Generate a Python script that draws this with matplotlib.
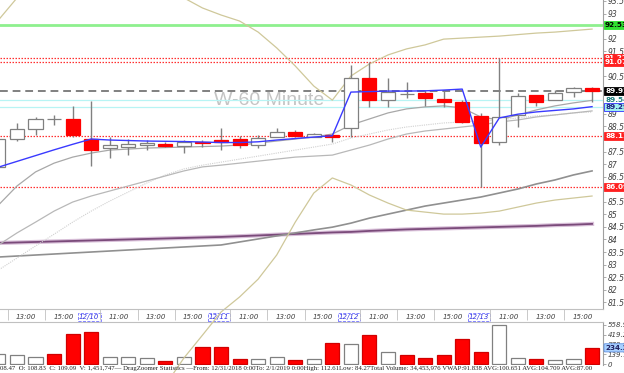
import matplotlib
matplotlib.use("Agg")
import matplotlib.pyplot as plt

# ---- data (hourly bars, index -1 .. 31) ----
bar_idx = list(range(-1, 32))

opens = [86.88, 87.99, 88.39, 88.81, 88.80, 87.99, 87.65, 87.69, 87.76, 87.80, 87.73,
         87.89, 87.96, 87.99, 87.76, 88.09, 88.29, 88.07, 88.16, 88.43, 90.44, 89.55,
         89.80, 89.84, 89.61, 89.49, 88.92, 87.89, 88.96, 89.75, 89.55, 89.86, 90.02]
highs = [88.16, 88.65, 88.86, 88.96, 89.31, 89.51, 88.09, 88.00, 87.96, 87.89, 87.96,
         87.96, 88.44, 88.12, 88.16, 88.43, 88.36, 88.23, 88.20, 90.95, 91.08, 90.42,
         90.28, 89.95, 89.95, 89.55, 89.04, 91.22, 89.82, 89.75, 89.95, 90.06, 90.06]
lows = [86.77, 87.93, 88.16, 88.56, 88.08, 86.94, 87.23, 87.36, 87.56, 87.67, 87.45,
        87.69, 87.56, 87.63, 87.63, 88.09, 88.08, 88.07, 87.89, 88.09, 89.29, 89.29,
        89.62, 89.32, 89.29, 88.63, 86.09, 87.76, 88.49, 89.32, 89.55, 89.66, 89.48]
closes = [88.00, 88.39, 88.80, 88.81, 88.16, 87.56, 87.76, 87.80, 87.84, 87.72, 87.87,
          87.83, 87.89, 87.76, 88.05, 88.29, 88.12, 88.19, 88.07, 90.42, 89.55, 89.88,
          89.80, 89.62, 89.49, 88.69, 87.83, 88.89, 89.71, 89.49, 89.84, 90.02, 89.92]
volume_k = [148, 129, 109, 143, 434, 458, 109, 109, 95, 47, 109, 252, 248, 80, 80, 100,
            66, 72, 301, 286, 410, 172, 133, 95, 138, 362, 180, 556, 86, 72, 57, 72, 234.2]

vwap = [86.88, 87.11, 87.34, 87.57, 87.79, 88.00, 87.96, 87.94, 87.92, 87.91, 87.90,
        87.88, 87.86, 87.86, 87.89, 87.96, 88.02, 88.08, 88.13, 89.87, 89.89, 89.91,
        89.91, 89.92, 89.95, 89.99, 87.68, 88.84, 88.99, 89.08, 89.14, 89.20, 89.29]
ma_fast = [85.37, 86.13, 86.69, 87.04, 87.28, 87.44, 87.56, 87.60, 87.64, 87.66, 87.68,
           87.70, 87.72, 87.76, 87.84, 87.92, 88.00, 88.08, 88.20, 88.56, 88.80, 89.04,
           89.20, 89.28, 89.32, 89.24, 88.88, 88.76, 88.96, 89.16, 89.32, 89.44, 89.54]
ma_mid = [83.78, 84.26, 84.69, 85.13, 85.49, 85.73, 85.93, 86.13, 86.33, 86.53, 86.73,
          86.89, 86.96, 87.04, 87.12, 87.20, 87.28, 87.32, 87.36, 87.56, 87.76, 88.00,
          88.20, 88.32, 88.40, 88.48, 88.56, 88.68, 88.76, 88.88, 88.96, 89.04, 89.12]
ma_dot = [82.78, 83.26, 83.74, 84.21, 84.69, 85.13, 85.53, 85.89, 86.25, 86.57, 86.81,
          86.96, 87.08, 87.20, 87.32, 87.44, 87.56, 87.68, 87.80, 88.04, 88.20, 88.36,
          88.48, 88.56, 88.64, 88.68, 88.72, 88.76, 88.84, 88.92, 88.96, 89.04, 89.08]
ma_slow = [83.30, 83.34, 83.38, 83.42, 83.46, 83.50, 83.54, 83.58, 83.62, 83.66, 83.70,
           83.74, 83.78, 83.90, 84.02, 84.14, 84.26, 84.38, 84.49, 84.65, 84.85, 85.01,
           85.17, 85.33, 85.45, 85.57, 85.69, 85.85, 86.01, 86.21, 86.37, 86.57, 86.73]
ma_long = [83.86, 83.88, 83.90, 83.92, 83.94, 83.96, 83.98, 84.00, 84.02, 84.04, 84.06,
           84.08, 84.10, 84.13, 84.16, 84.19, 84.22, 84.25, 84.28, 84.30, 84.34, 84.37,
           84.40, 84.42, 84.44, 84.46, 84.48, 84.50, 84.52, 84.54, 84.57, 84.59, 84.62]
bb_upper = [92.74, 93.62, 95.13, 95.73, 96.13, 96.33, 96.13, 95.73, 95.13, 94.33, 93.62,
            93.22, 92.94, 92.70, 92.26, 91.63, 90.91, 90.11, 89.55, 90.51, 90.99, 91.35,
            91.59, 91.75, 91.98, 92.02, 92.06, 92.10, 92.16, 92.22, 92.26, 92.32, 92.38]
bb_lower = [76.80, 76.01, 75.41, 75.01, 74.81, 74.89, 75.41, 76.21, 77.20, 78.20, 79.28,
            80.19, 81.11, 81.71, 82.42, 83.38, 84.69, 85.85, 86.45, 86.17, 85.77, 85.45,
            85.17, 85.09, 85.01, 85.01, 85.05, 85.13, 85.29, 85.45, 85.57, 85.65, 85.73]

level_green = 92.53
level_red = [91.22, 91.07, 88.11, 86.09]
last_price = 89.92
level_cyan = [89.54, 89.29]

price_ticks = [81.5 + 0.5 * i for i in range(25)]
# labels the badges sit on top of are not drawn
hidden_ticks = [92.5, 91.0, 90.0, 89.5, 88.0, 86.0]
vol_ticks = [0, 139.7, 279.5, 419.2, 558.9]
vol_tick_labels = ["0", "139.7K", "279.5K", "419.2K", "558.9K"]

day_starts = [-3, 4, 11, 18, 25]
day_names = ["12/07", "12/10", "12/11", "12/12", "12/13"]

status = ("08.47  O: 108.83  C: 109.09  V: 1,451,747\u2014 DragZoomer Statistics \u2014From: "
          "12/31/2018 0:00To: 2/1/2019 0:00High: 112.61Low: 84.27Total Volume: 34,453,976 "
          "VWAP:91.838 AVG:100.651 AVG:104.709 AVG:87.00")

# ---- figure ----
W, H = 624, 373
fig = plt.figure(figsize=(W / 100, H / 100), dpi=100)
ax = fig.add_axes([0, 1 - 309 / H, 603 / W, 309 / H])
axv = fig.add_axes([0, 1 - 365 / H, 603 / W, 43 / H])
ax.set_zorder(3)
for a in (ax, axv):
    a.set_facecolor("none")
    a.set_xlim(-0.916, 31.59)
    for s in ("left", "top"):
        a.spines[s].set_visible(False)
    a.spines["right"].set_color("#a0a0a0")
    a.yaxis.tick_right()

ax.set_ylim(81.23, 93.538)
axv.set_ylim(-10, 601.5)

# watermark
ax.text(0.446, 0.676, "W-60 Minute", transform=ax.transAxes, ha="center", va="center",
        fontsize=14, color="#c4c4c4", family="Liberation Sans", zorder=0)

# indicator lines
ax.plot(bar_idx, ma_long, color="#d8bfd8", lw=3.0, zorder=2)
ax.plot(bar_idx, ma_long, color="#7a4a7a", lw=1.3, zorder=2)
ax.plot(bar_idx, ma_slow, color="#909090", lw=1.2, zorder=2)
ax.plot(bar_idx, ma_dot, color="#d0d0d0", lw=0.8, ls=(0, (1, 1)), zorder=2)
ax.plot(bar_idx, ma_mid, color="#b8b8b8", lw=0.9, zorder=2)
ax.plot(bar_idx, ma_fast, color="#a8a8a8", lw=0.9, zorder=2)
ax.plot(bar_idx, bb_upper, color="#cfc89a", lw=0.9, zorder=2)
ax.plot(bar_idx, bb_lower, color="#cfc89a", lw=0.9, zorder=2, clip_on=False)

# horizontal levels
ax.axhline(level_green, color="#8ef08e", lw=2.0, zorder=1)
for lv in level_red:
    ax.axhline(lv, color="#ff3030", lw=0.9, ls=(0, (1.2, 1.2)), zorder=1)
for lv in level_cyan:
    ax.axhline(lv, color="#b8f4f4", lw=0.9, zorder=1)
ax.axhline(last_price, color="#808080", lw=1.4, ls=(0, (4, 2.5)), zorder=1)

# candles
up = [c > o for o, c in zip(opens, closes)]
ax.vlines(bar_idx, lows, highs, color="#808080", lw=1.0, zorder=4)
body_bottom = [min(o, c) for o, c in zip(opens, closes)]
body_height = [abs(c - o) for o, c in zip(opens, closes)]
face = ["#ff0000" if (c < o) else "white" for o, c in zip(opens, closes)]
edge = ["#ff0000" if (c < o) else "#808080" for o, c in zip(opens, closes)]
ax.bar(bar_idx, body_height, bottom=body_bottom, width=0.76, color=face,
       edgecolor=edge, linewidth=0.9, zorder=5)
ax.plot(bar_idx, vwap, color="#3a3aff", lw=1.0, zorder=6)

# price axis
ax.set_yticks(price_ticks)
ax.set_yticklabels(["" if t in hidden_ticks else f"{t:g}" for t in price_ticks])
ax.tick_params(axis="y", length=2, width=0.6, color="#a0a0a0", pad=1.5, labelsize=5.5,
               labelcolor="#404040")
for lab in ax.get_yticklabels():
    lab.set_fontstyle("italic")

# time axis
tick_pos, tick_lab, sep_pos = [], [], []
for d, name in zip(day_starts, day_names):
    tick_pos += [d - 0.1, d + 1.5, d + 3.5, d + 5.5]
    tick_lab += [name, "11:00", "13:00", "15:00"]
    sep_pos += [d + 0.5, d + 2.5, d + 4.5]
ax.set_xticks(tick_pos)
ax.set_xticklabels(tick_lab)
ax.set_xticks(sep_pos, minor=True)
ax.tick_params(axis="x", which="major", length=0, pad=3.5, labelsize=5, labelcolor="#404040")
ax.tick_params(axis="x", which="minor", length=8, width=0.6, color="#c0c0c0")
ax.spines["bottom"].set_color("#c0c0c0")
ax.set_xlim(-0.916, 31.59)
for lab in ax.get_xticklabels():
    lab.set_fontstyle("italic")
    if "/" in lab.get_text():
        lab.set_color("#3030e0")
        lab.set_bbox(dict(boxstyle="square,pad=0.15", fc="none", ec="#7070ff", lw=0.6, ls="--"))


def badge(axis, y, text, fc, tc, ec=None, style="square,pad=0.15"):
    axis.annotate(text, xy=(1.0, y), xycoords=("axes fraction", "data"), xytext=(1.5, 0),
                  textcoords="offset points", ha="left", va="center", fontsize=5.2,
                  color=tc, fontweight="bold", annotation_clip=False, zorder=10,
                  bbox=dict(boxstyle=style, fc=fc, ec=ec or fc, lw=0.6))


badge(ax, level_green, "92.53", "#30e030", "black")
badge(ax, level_red[0], "91.22", "#ff2020", "white")
badge(ax, level_red[1], "91.07", "#ff2020", "white")
badge(ax, last_price, "89.92", "black", "white")
badge(ax, level_cyan[0], "89.54", "white", "#208080")
badge(ax, level_cyan[1], "89.29", "#a0f0f0", "#202080", ec="#3030ff")
badge(ax, level_red[2], "88.11", "#ff2020", "white")
badge(ax, level_red[3], "86.09", "#ff2020", "white")

# volume
vface = ["white" if u else "#ff0000" for u in up]
vedge = ["#808080" if u else "#d00000" for u in up]
axv.bar(bar_idx, volume_k, width=0.76, color=vface, edgecolor=vedge, linewidth=0.9, zorder=2)
axv.set_yticks(vol_ticks)
axv.set_yticklabels(vol_tick_labels)
axv.tick_params(axis="y", length=2, width=0.6, color="#a0a0a0", pad=1.5, labelsize=5,
                labelcolor="#404040")
for lab in axv.get_yticklabels():
    lab.set_fontstyle("italic")
axv.set_xticks([])
axv.spines["bottom"].set_visible(False)
axv.spines["top"].set_visible(True)
axv.spines["top"].set_color("#c0c0c0")
badge(axv, volume_k[-1], "234.2K", "#a8d0ff", "#202060", ec="#6090e0", style="round,pad=0.15")

fig.text(0.0, 1 - 368.5 / H, status, fontsize=4.9, family="Liberation Serif",
         ha="left", va="center", color="#202020")

fig.savefig("out.png", dpi=100, facecolor="white")
